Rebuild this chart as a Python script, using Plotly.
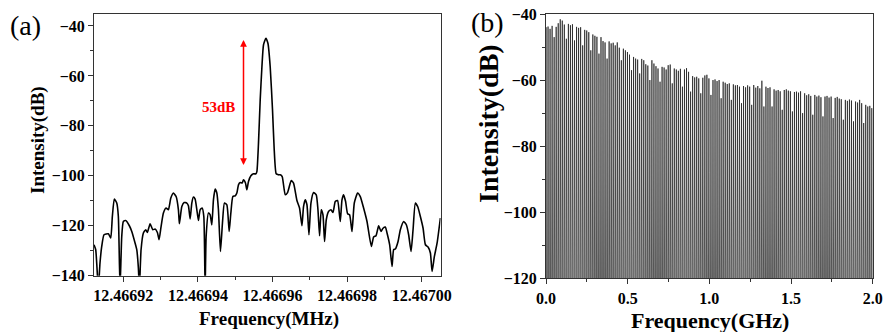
import plotly.graph_objects as go

# ---------------- Panel (a): single mode, beat spectrum ----------------
a_base_mhz = 12.4669          # offsets below are in Hz above this frequency
a_offset_hz = [
    12.13, 12.59, 13.29, 13.74, 14.20, 14.82, 15.97, 16.62, 17.05, 17.58,
    18.23, 18.66, 19.11, 19.57, 20.00, 20.64, 21.61, 22.26, 23.14, 23.60,
    24.03, 24.30, 24.75, 25.37, 26.01, 26.44, 27.17, 27.89, 28.51, 29.13,
    29.58, 30.12, 30.74, 31.46, 32.08, 32.73, 33.42, 34.15, 34.77, 35.03,
    35.68, 36.30, 37.02, 37.45, 37.91, 38.36, 38.79, 39.25, 39.71, 40.13,
    40.59, 41.13, 41.58, 41.93, 42.20, 42.82, 43.28, 43.73, 44.16, 44.62,
    45.07, 45.50, 46.04, 46.58, 47.11, 47.76, 48.38, 48.83, 49.37, 49.99,
    50.44, 50.87, 51.33, 51.87, 52.22, 52.75, 53.13, 53.56, 54.20, 54.90,
    55.54, 55.81, 56.24, 56.70, 57.16, 57.58, 58.23, 58.77, 59.38, 60.00,
    60.46, 60.99, 61.61, 62.07, 62.60, 63.41, 64.03, 65.02, 65.64, 66.55,
    67.25, 67.89, 68.32, 68.78, 69.24, 69.77, 70.31, 71.01, 71.73, 72.19,
    72.62, 73.07, 73.53, 73.96, 74.42, 75.03, 75.68, 76.22, 76.83, 77.45,
    78.17, 78.63, 79.06, 79.60, 80.14, 80.67, 81.32, 81.93, 82.82, 83.54,
    84.43, 85.34, 86.50, 87.12, 87.76, 88.46, 89.10, 89.64, 90.26, 90.71,
    91.41, 92.06, 92.48, 92.94, 93.67, 94.28, 95.17, 95.89, 96.51, 97.16,
    97.69, 98.31, 98.93, 99.65, 100.38, 101.00, 101.72, 102.34, 102.79, 103.41,
    104.14, 105.02,
]
a_db = [
    -127.6, -129.6, -145.0, -134.9, -128.3, -123.6, -123.2, -124.9, -116.3, -109.3,
    -110.9, -116.3, -145.0, -124.3, -118.3, -117.9, -120.0, -122.3, -126.9, -129.6,
    -136.9, -145.0, -129.6, -122.9, -121.6, -122.7, -119.2, -121.6, -121.3, -122.7,
    -125.6, -120.3, -114.9, -112.9, -113.6, -108.9, -106.9, -108.3, -113.6, -119.2,
    -112.3, -110.7, -110.9, -112.0, -117.3, -110.9, -108.5, -109.3, -113.6, -117.9,
    -113.6, -112.9, -116.3, -145.0, -124.3, -114.9, -115.6, -119.6, -109.6, -105.3,
    -106.9, -113.6, -130.3, -118.9, -110.9, -111.6, -122.3, -114.9, -108.3, -108.0,
    -106.9, -103.6, -102.7, -102.9, -101.6, -102.9, -105.6, -102.3, -100.0, -99.2,
    -99.2, -98.3, -86.9, -69.6, -56.3, -47.6, -44.9, -46.9, -56.3, -73.6,
    -89.6, -99.2, -99.6, -99.6, -100.3, -107.6, -106.7, -101.9, -102.9, -109.9,
    -112.9, -120.0, -112.3, -109.6, -111.6, -123.6, -110.9, -106.7, -107.6, -113.6,
    -124.0, -113.6, -115.6, -126.3, -117.6, -114.3, -113.6, -114.7, -110.3, -109.9,
    -118.3, -109.6, -107.6, -110.3, -115.2, -115.6, -122.3, -110.9, -106.9, -108.3,
    -112.9, -118.3, -128.3, -124.5, -124.0, -120.0, -122.3, -121.0, -120.5, -122.9,
    -127.6, -136.3, -129.6, -129.3, -126.3, -121.6, -118.3, -119.6, -123.6, -130.3,
    -121.6, -110.9, -112.3, -116.3, -121.0, -127.6, -128.5, -130.9, -138.3, -132.3,
    -126.9, -116.9,
]
a_tick_vals = [12.46692, 12.46694, 12.46696, 12.46698, 12.46700]
a_tick_text = ["12.46692", "12.46694", "12.46696", "12.46698", "12.46700"]
a_minor_vals = [12.46693, 12.46695, 12.46697, 12.46699]
a_y_ticks = [-140, -120, -100, -80, -60, -40]
a_arrow_top_db, a_arrow_bottom_db = -45.6, -96.3
a_arrow_off_hz = 52.22
a_label_off_hz, a_label_db = 45.42, -72.3

# ---------------- Panel (b): comb of longitudinal modes ----------------
b_rep_ghz = 0.012467  # mode spacing (repetition rate)
b_peak_db = [
    -44.0, -43.8, -44.5, -43.6, -47.0, -43.9, -42.8, -41.6, -42.0, -43.2,
    -47.5, -43.0, -43.4, -43.1, -48.0, -43.9, -44.2, -44.0, -49.5, -44.8,
    -45.0, -45.5, -51.0, -46.2, -46.6, -46.9, -52.0, -47.0, -48.2, -48.6,
    -53.5, -48.3, -48.9, -48.7, -49.5, -48.6, -50.2, -54.0, -50.5, -51.0,
    -51.5, -52.3, -57.0, -53.0, -53.5, -53.8, -58.0, -53.6, -54.0, -55.2,
    -55.6, -60.0, -54.0, -55.0, -55.8, -56.5, -60.5, -56.0, -56.2, -56.8,
    -55.5, -55.3, -61.0, -56.5, -56.8, -57.2, -56.6, -62.0, -56.8, -56.4,
    -57.5, -63.5, -58.8, -59.2, -59.0, -59.5, -64.0, -59.3, -58.6, -58.4,
    -59.5, -64.5, -60.0, -59.8, -60.3, -60.0, -65.5, -60.5, -60.8, -61.2,
    -61.0, -66.0, -61.3, -61.6, -61.5, -62.0, -67.0, -61.8, -62.2, -61.6,
    -62.0, -67.5, -61.5, -62.3, -61.8, -62.5, -60.2, -68.0, -62.0, -62.4,
    -62.2, -68.0, -62.8, -63.2, -63.0, -63.4, -69.0, -63.0, -62.8, -63.2,
    -63.4, -69.5, -63.6, -63.5, -63.8, -63.4, -70.0, -64.0, -64.6, -64.3,
    -64.8, -70.5, -64.5, -65.0, -64.7, -65.2, -71.0, -65.0, -64.8, -65.3,
    -65.0, -71.5, -65.4, -65.1, -65.6, -65.8, -72.0, -66.0, -66.3, -65.9,
    -66.2, -72.5, -66.5, -66.8, -66.0, -67.0, -73.0, -67.5, -68.0, -67.8,
    -68.5,
]
b_floor_db = -126.0
b_shoulder_db = -88.0
b_tick_vals = [0.0, 0.5, 1.0, 1.5, 2.0]
b_tick_text = ["0.0", "0.5", "1.0", "1.5", "2.0"]
b_minor_vals = [0.25, 0.75, 1.25, 1.75]
b_y_ticks = [-120, -100, -80, -60, -40]
b_y_minor = [-110, -90, -70, -50]

# ---------------- build figure ----------------
W, H = 886, 332
SERIF = "Liberation Serif"
AXC = "#333333"

def px(xp):
    return xp / W

def py(yp):
    return 1 - yp / H

freq_a = [a_base_mhz + o * 1e-6 for o in a_offset_hz]

fig = go.Figure()
fig.add_trace(go.Scatter(
    x=freq_a, y=a_db, mode="lines",
    line=dict(color="black", width=1.6, shape="spline", smoothing=0.5),
    xaxis="x", yaxis="y", showlegend=False, hoverinfo="skip"))

xb, yb = [], []
for n, p in enumerate(b_peak_db):
    f = n * b_rep_ghz
    xb += [f - 0.0030, f - 0.0009, f, f + 0.0009, f + 0.0030, None]
    yb += [b_floor_db, b_shoulder_db, p, b_shoulder_db, b_floor_db, None]
fig.add_trace(go.Scatter(
    x=xb, y=yb, mode="lines",
    line=dict(color="#1a1a1a", width=0.7),
    xaxis="x2", yaxis="y2", showlegend=False, hoverinfo="skip"))

tickfont = dict(family=SERIF, size=16, color="black", weight="bold")
common = dict(showgrid=False, zeroline=False, showline=True, linecolor=AXC,
              linewidth=1, mirror=True, ticks="outside", ticklen=5,
              tickwidth=1, tickcolor=AXC, tickfont=tickfont, automargin=False)

fig.update_layout(
    width=W, height=H,
    margin=dict(l=0, r=0, t=0, b=0, autoexpand=False),
    paper_bgcolor="white", plot_bgcolor="white",
    xaxis=dict(domain=[px(94), px(440.5)],
               range=[a_base_mhz + 12.13e-6, a_base_mhz + 105.05e-6],
               tickmode="array", tickvals=a_tick_vals, ticktext=a_tick_text,
               minor=dict(tickmode="array", tickvals=a_minor_vals, ticks="outside",
                          ticklen=3, tickcolor=AXC),
               anchor="y", **common),
    yaxis=dict(domain=[py(275.7), py(14)], range=[-140, -35.2],
               tickmode="array", tickvals=a_y_ticks,
               minor=dict(dtick=10, tick0=-130, ticks="outside", ticklen=3, tickcolor=AXC),
               anchor="x", **common),
    xaxis2=dict(domain=[px(546), px(872.7)], range=[0, 2.0],
                tickmode="array", tickvals=b_tick_vals, ticktext=b_tick_text,
                minor=dict(tickmode="array", tickvals=b_minor_vals, ticks="outside",
                           ticklen=3, tickcolor=AXC),
                anchor="y2", **common),
    yaxis2=dict(domain=[py(278.3), py(14)], range=[-120, -40],
                tickmode="array", tickvals=b_y_ticks,
                minor=dict(tickmode="array", tickvals=b_y_minor, ticks="outside",
                           ticklen=3, tickcolor=AXC),
                anchor="x2", **common),
)

ann = []
def label(text, x, y, size, bold=True, angle=0, color="black"):
    ann.append(dict(text=text, x=x, y=y, xref="paper", yref="paper",
                    showarrow=False, textangle=angle, xanchor="center", yanchor="middle",
                    font=dict(family=SERIF, size=size, color=color,
                              weight="bold" if bold else "normal")))

label("Frequency(MHz)", px(269), py(319), 19)
label("Intensity(dB)", px(38), py(140), 19, angle=-90)
label("Frequency(GHz)", px(710), py(320), 22)
label("Intensity(dB)", px(488), py(124), 28, angle=-90)
label("(a)", px(25), py(26), 28, bold=False)
label("(b)", px(487), py(23), 28, bold=False)

arrow_x = a_base_mhz + a_arrow_off_hz * 1e-6
ann.append(dict(x=arrow_x, y=a_arrow_top_db, ax=arrow_x, ay=a_arrow_bottom_db,
                xref="x", yref="y", axref="x", ayref="y", text="",
                showarrow=True, arrowhead=2, startarrowhead=2, arrowside="end+start",
                arrowsize=0.9, arrowwidth=1.5, arrowcolor="#ff0000",
                standoff=0, startstandoff=0))
ann.append(dict(x=a_base_mhz + a_label_off_hz * 1e-6, y=a_label_db, xref="x", yref="y",
                text="53dB", showarrow=False,
                font=dict(family=SERIF, size=15, color="#ff0000", weight="bold")))

fig.update_layout(annotations=ann)
fig.write_html("out.html", config={"displayModeBar": False},
               post_script="document.body.style.margin='0px';document.body.style.padding='0px';document.body.style.overflow='hidden';")
